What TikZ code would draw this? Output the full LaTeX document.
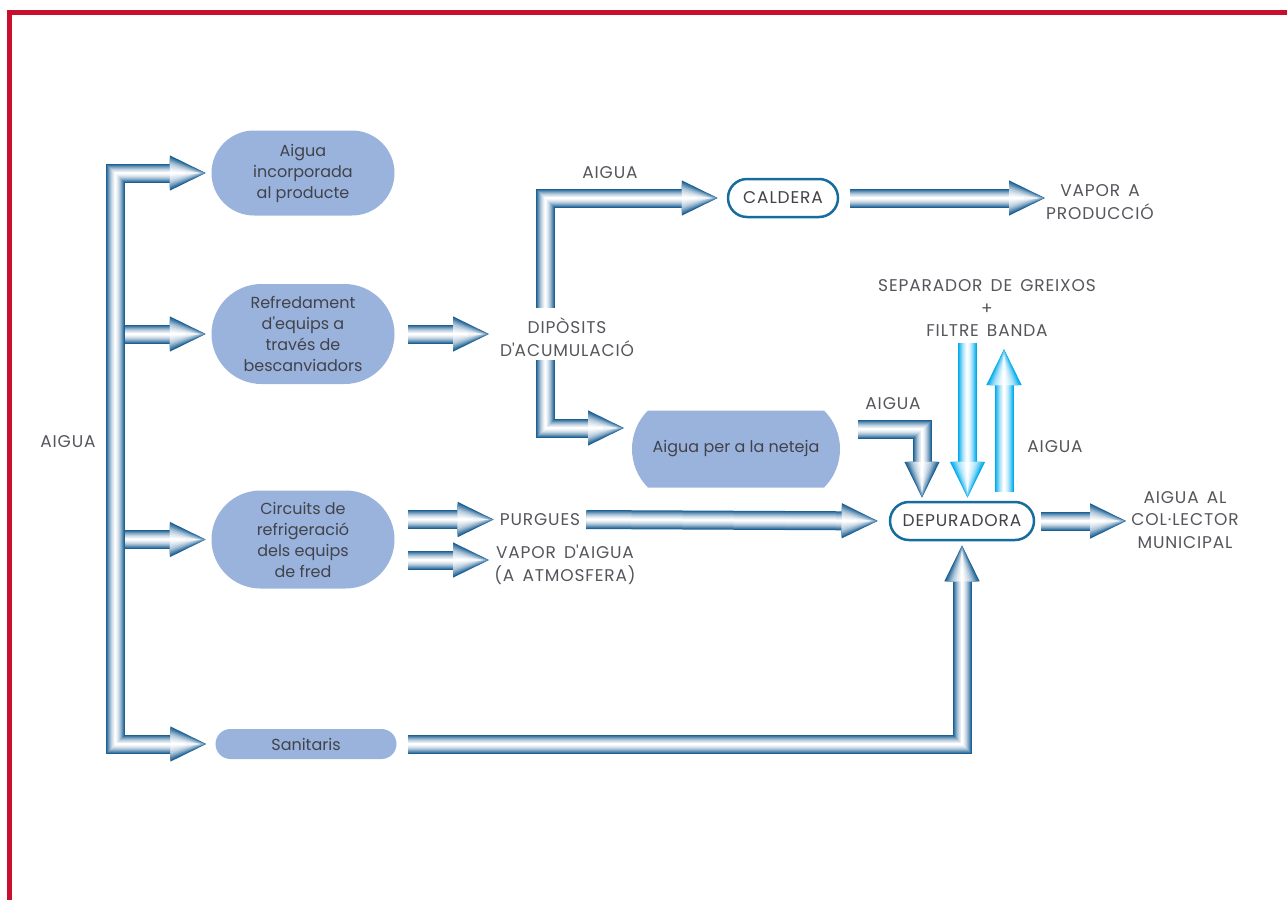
\documentclass[tikz,border=0pt]{standalone}
\usepackage{fontspec}
\setmainfont{Poppins}
\newfontfamily\capsfont{Poppins}[LetterSpace=5, WordSpace=1.5]
\usepackage{tikz}
\usetikzlibrary{positioning}
\usetikzlibrary{calc}
\usetikzlibrary{arrows.meta}
\usetikzlibrary{shapes.misc}
\definecolor{pipeblue}{RGB}{28,96,148}
\definecolor{pipecyan}{RGB}{0,172,236}
\definecolor{boxblue}{RGB}{153,179,221}
\definecolor{rimblue}{RGB}{22,108,158}
\definecolor{textgray}{RGB}{66,66,74}
\definecolor{borderred}{RGB}{200,16,46}
\tikzset{
	x=1pt, y=-1pt,
	unit/.style={rounded rectangle, fill=boxblue, text=textgray, align=center,
		inner sep=0pt, minimum width=183pt, minimum height=85pt,
		font=\fontsize{16}{21}\selectfont},
	tank/.style={unit, rounded rectangle arc length=90, minimum width=208pt, minimum height=77pt},
	plant/.style={rounded rectangle, draw=rimblue, line width=2.5pt, fill=white, text=textgray,
		inner sep=0pt, minimum height=38pt, font=\capsfont\fontsize{17}{22}\selectfont},
	label/.style={text=textgray!90, align=center, inner sep=2pt, font=\capsfont\fontsize{17}{22.5}\selectfont},
	onehead/.style={-{Triangle[width=0pt 1.7,length=37pt]}},
	twohead/.style={{Triangle[width=0pt 1.7,length=37pt]}-{Triangle[width=0pt 1.7,length=37pt]}},
	border/.style={draw=borderred, line width=4.5pt}
}
% shaded pipe: stacked strokes, dark rim to white core
\newcommand{\waterpipe}[3][pipeblue]{%
	\foreach \lw/\wt in {19/0,17/15,15/30,13/45,11/58,9/70,7/80,5/88,3/95,1.5/100}
		{\draw[line width=\lw pt, draw=white!\wt!#1, line join=miter, #2] #3;}}
\newcommand{\ap}{\textquotesingle}

\begin{document}
\begin{tikzpicture}
	\useasboundingbox (0,0) rectangle (1287,900);
	\draw[border] (9.5,900) -- (9.5,12.5) -- (1287,12.5);
	
	% Boxes
	\node[unit] (inc) at (303,173) {Aigua\\incorporada\\al producte};
	\node[unit, minimum height=100pt] (ref) at (303,334) {Refredament\\d\ap equips a\\través de\\bescanviadors};
	\node[unit, minimum height=98pt] (cir) at (303,539.5) {Circuits de\\refrigeració\\dels equips\\de fred};
	\node[unit, minimum height=30pt, minimum width=181pt] (san) at (306,744) {Sanitaris};
	\node[tank] (net) at (736,449) {Aigua per a la neteja};
	\node[plant, minimum width=110pt] (cal) at (783,198) {CALDERA};
	\node[plant, minimum width=144pt] (dep) at (962,521) {DEPURADORA};
	
	% Labels
	\node[label] (aigin) at (68,442) {AIGUA};
	\node[label] (dip) at (567,337) {DIPÒSITS\\D\ap ACUMULACIÓ};
	\node[label] (aigcal) at (610,173) {AIGUA};
	\node[label] (vap) at (1100,202) {VAPOR A\\PRODUCCIÓ};
	\node[label] (sep) at (987,308) {SEPARADOR DE GREIXOS\\+\\FILTRE BANDA};
	\node[label] (aignet) at (893,404) {AIGUA};
	\node[label] (aigsep) at (1055,447) {AIGUA};
	\node[label] (pur) at (540,519.5) {PURGUES};
	\node[label] (vda) at (565,565) {VAPOR D\ap AIGUA\\(A ATMOSFERA)};
	\node[label] (col) at (1185,520) {AIGUA AL\\COL·LECTOR\\MUNICIPAL};
	
	% Pipe ends
	\coordinate (trunk) at (115.5,450);
	\coordinate (edge) at (125,450);
	\coordinate (dipin) at (490,334);
	\coordinate (dipup) at (545.5,308);
	\coordinate (dipdn) at (545.5,360);
	\coordinate (netin) at (625,428);
	\coordinate (vapin) at (1046,198);
	\coordinate (vdain) at (490,560);
	\coordinate (netout) at (858,429);
	\coordinate (sepout) at (967.5,343);
	\coordinate (sepin) at (1004,348);
	
	% Pipes
	\waterpipe{twohead, shorten <=4.5pt, shorten >=8pt}{(inc.west) -| (trunk) |- (san.west)}
	\waterpipe{onehead, shorten >=4.5pt}{(edge |- ref.west) -- (ref.west)}
	\waterpipe{onehead, shorten >=4.5pt}{(edge |- cir.west) -- (cir.west)}
	\waterpipe{onehead, shorten <=13.5pt}{(ref.east) -- (dipin)}
	\waterpipe{onehead, shorten >=8pt}{(dipup) |- (cal.west)}
	\waterpipe{onehead}{(dipdn) |- (netin)}
	\waterpipe{onehead, shorten <=11pt}{(cal.east) -- (vapin)}
	\waterpipe{onehead, shorten <=13.5pt, shorten >=3pt}{(cir.east |- pur.west) -- (pur.west)}
	\waterpipe{onehead, shorten <=13.5pt}{(cir.east |- vdain) -- (vdain)}
	\waterpipe{onehead, shorten <=4pt, shorten >=10pt}{(pur.east) -- (dep.west)}
	\waterpipe{onehead, shorten <=11pt, shorten >=3pt}{(san.east) -| (dep.south)}
	\waterpipe{onehead, shorten >=2pt}{(netout) -| ([xshift=-40pt]dep.north)}
	\waterpipe[pipecyan]{onehead, shorten >=2pt}{(sepout) -- (sepout |- dep.north)}
	\waterpipe[pipecyan]{onehead, shorten <=9pt}{(sepin |- dep.north) -- (sepin)}
	\waterpipe{onehead, shorten <=6pt, shorten >=2pt}{(dep.east) -- (col.west |- dep.east)}
\end{tikzpicture}
\end{document}
